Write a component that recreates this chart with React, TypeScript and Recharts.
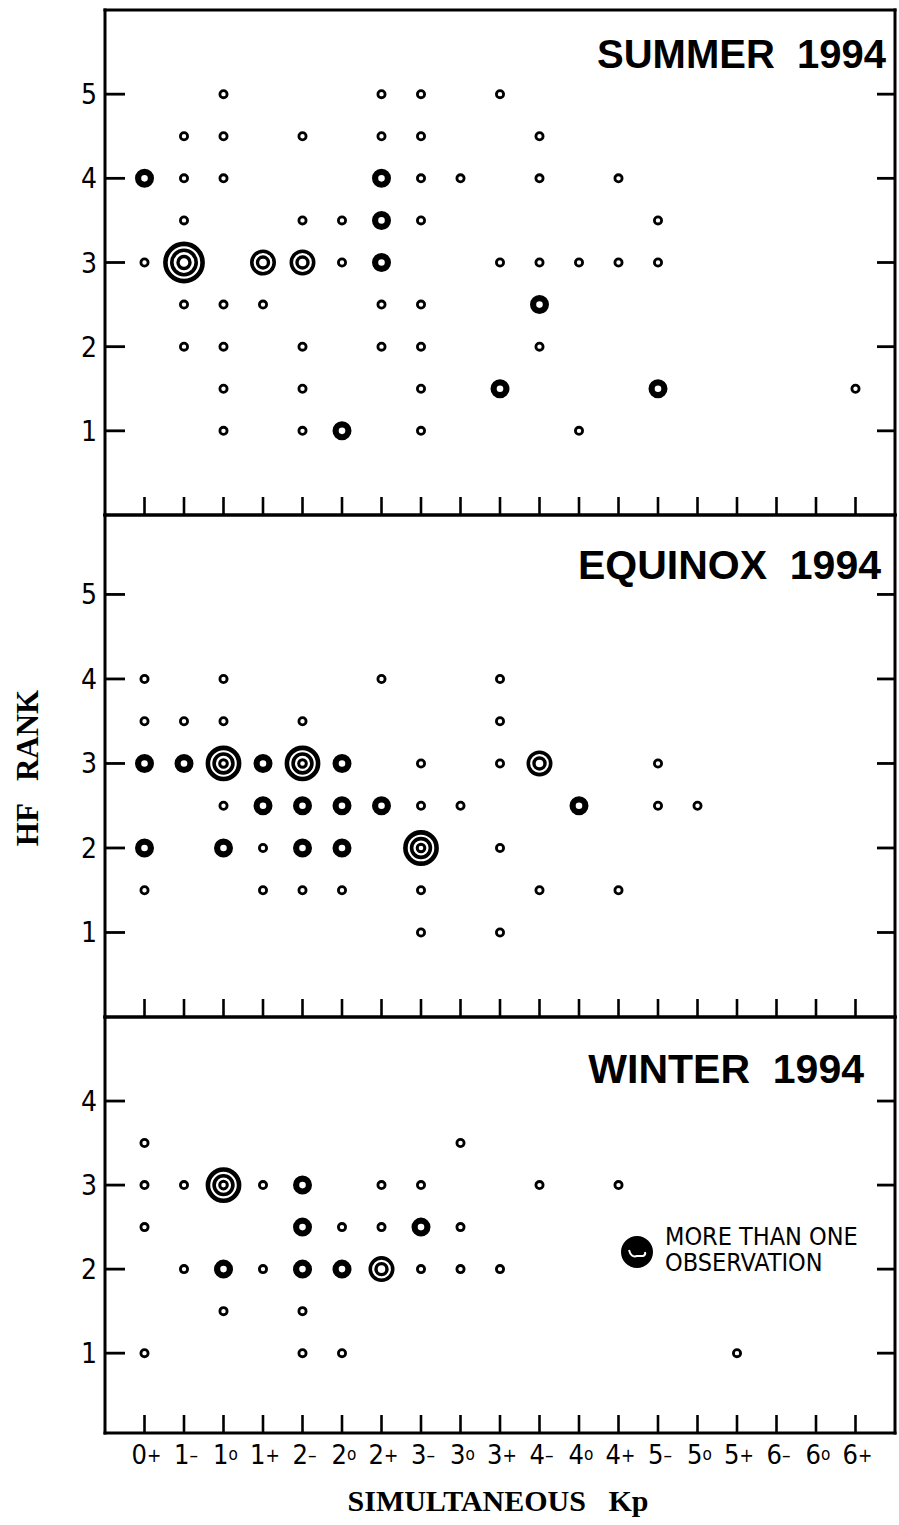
import React from 'react';
import { ScatterChart, Scatter, XAxis, YAxis } from 'recharts';

// ---- data ----
const kpLabels = ['0+', '1-', '1o', '1+', '2-', '2o', '2+', '3-', '3o', '3+', '4-', '4o', '4+', '5-', '5o', '5+', '6-', '6o', '6+'];
const kpTicks = kpLabels.map((_, i) => i);

const summerRankTicks = [1, 2, 3, 4, 5];
const equinoxRankTicks = [1, 2, 3, 4, 5];
const winterRankTicks = [1, 2, 3, 4];

type Obs = [string, number, number]; // [Kp, HF rank, number of observations class]

const summerObs: Obs[] = [
  ['1o', 5, 1], ['2+', 5, 1], ['3-', 5, 1], ['3+', 5, 1],
  ['1-', 4.5, 1], ['1o', 4.5, 1], ['2-', 4.5, 1], ['2+', 4.5, 1], ['3-', 4.5, 1], ['4-', 4.5, 1],
  ['0+', 4, 2], ['1-', 4, 1], ['1o', 4, 1], ['2+', 4, 2], ['3-', 4, 1], ['3o', 4, 1], ['4-', 4, 1], ['4+', 4, 1],
  ['1-', 3.5, 1], ['2-', 3.5, 1], ['2o', 3.5, 1], ['2+', 3.5, 2], ['3-', 3.5, 1], ['5-', 3.5, 1],
  ['0+', 3, 1], ['1-', 3, 5], ['1+', 3, 3], ['2-', 3, 3], ['2o', 3, 1], ['2+', 3, 2], ['3+', 3, 1], ['4-', 3, 1], ['4o', 3, 1], ['4+', 3, 1], ['5-', 3, 1],
  ['1-', 2.5, 1], ['1o', 2.5, 1], ['1+', 2.5, 1], ['2+', 2.5, 1], ['3-', 2.5, 1], ['4-', 2.5, 2],
  ['1-', 2, 1], ['1o', 2, 1], ['2-', 2, 1], ['2+', 2, 1], ['3-', 2, 1], ['4-', 2, 1],
  ['1o', 1.5, 1], ['2-', 1.5, 1], ['3-', 1.5, 1], ['3+', 1.5, 2], ['5-', 1.5, 2], ['6+', 1.5, 1],
  ['1o', 1, 1], ['2-', 1, 1], ['2o', 1, 2], ['3-', 1, 1], ['4o', 1, 1],
];

const equinoxObs: Obs[] = [
  ['0+', 4, 1], ['1o', 4, 1], ['2+', 4, 1], ['3+', 4, 1],
  ['0+', 3.5, 1], ['1-', 3.5, 1], ['1o', 3.5, 1], ['2-', 3.5, 1], ['3+', 3.5, 1],
  ['0+', 3, 2], ['1-', 3, 2], ['1o', 3, 4], ['1+', 3, 2], ['2-', 3, 4], ['2o', 3, 2], ['3-', 3, 1], ['3+', 3, 1], ['4-', 3, 3], ['5-', 3, 1],
  ['1o', 2.5, 1], ['1+', 2.5, 2], ['2-', 2.5, 2], ['2o', 2.5, 2], ['2+', 2.5, 2], ['3-', 2.5, 1], ['3o', 2.5, 1], ['4o', 2.5, 2], ['5-', 2.5, 1], ['5o', 2.5, 1],
  ['0+', 2, 2], ['1o', 2, 2], ['1+', 2, 1], ['2-', 2, 2], ['2o', 2, 2], ['3-', 2, 4], ['3+', 2, 1],
  ['0+', 1.5, 1], ['1+', 1.5, 1], ['2-', 1.5, 1], ['2o', 1.5, 1], ['3-', 1.5, 1], ['4-', 1.5, 1], ['4+', 1.5, 1],
  ['3-', 1, 1], ['3+', 1, 1],
];

const winterObs: Obs[] = [
  ['0+', 3.5, 1], ['3o', 3.5, 1],
  ['0+', 3, 1], ['1-', 3, 1], ['1o', 3, 4], ['1+', 3, 1], ['2-', 3, 2], ['2+', 3, 1], ['3-', 3, 1], ['4-', 3, 1], ['4+', 3, 1],
  ['0+', 2.5, 1], ['2-', 2.5, 2], ['2o', 2.5, 1], ['2+', 2.5, 1], ['3-', 2.5, 2], ['3o', 2.5, 1],
  ['1-', 2, 1], ['1o', 2, 2], ['1+', 2, 1], ['2-', 2, 2], ['2o', 2, 2], ['2+', 2, 3], ['3-', 2, 1], ['3o', 2, 1], ['3+', 2, 1],
  ['1o', 1.5, 1], ['2-', 1.5, 1],
  ['0+', 1, 1], ['2-', 1, 1], ['2o', 1, 1], ['5+', 1, 1],
];

const toPoints = (obs: Obs[]) => obs.map(([kp, rank, n]) => ({ kp: kpLabels.indexOf(kp), rank, n }));

// ---- styles ----
const RINGS: Record<number, [number, number][]> = {
  1: [[3.6, 2.8]],
  2: [[6.4, 6.2]],
  3: [[11.2, 3.6], [5.5, 3.4]],
  4: [[15.6, 4.6], [9.4, 3.6], [3.8, 3]],
  5: [[18.6, 4.6], [12.2, 3.6], [6, 3.4]],
};

const Marker = (props: any) => {
  const { cx, cy, payload } = props;
  if (cx == null || cy == null || !payload) return null;
  const rings = RINGS[payload.n] || RINGS[1];
  return (
    <g>
      {rings.map(([r, w], i) => (
        <circle key={i} cx={cx} cy={cy} r={r} fill={i === 0 ? '#fff' : 'none'} stroke="#000" strokeWidth={w} />
      ))}
    </g>
  );
};

const TICK_FONT = "'DejaVu Sans Condensed', 'DejaVu Sans', sans-serif";

const makeXTick = (showLabel: boolean) => (props: any) => {
  const { x, y, payload } = props;
  const lab = kpLabels[payload.value] ?? '';
  const suffix = lab.slice(1);
  return (
    <g>
      <line x1={x} y1={y} x2={x} y2={y - 18} stroke="#000" strokeWidth={2.6} />
      {showLabel && (
        <text x={x + 2} y={y + 31} textAnchor="middle" fontFamily={TICK_FONT} fill="#000">
          <tspan fontSize={27}>{lab[0]}</tspan>
          <tspan fontSize={suffix === 'o' ? 17 : 19} dy={suffix === 'o' ? -4 : -2}>{suffix === '-' ? '–' : suffix}</tspan>
        </text>
      )}
    </g>
  );
};

const LeftTick = (props: any) => {
  const { x, y, payload } = props;
  return (
    <g>
      <line x1={x} y1={y} x2={x + 20} y2={y} stroke="#000" strokeWidth={2.8} />
      <text x={x - 8} y={y + 10} textAnchor="end" fontFamily={TICK_FONT} fontSize={28} fill="#000">
        {payload.value}
      </text>
    </g>
  );
};

const RightTick = (props: any) => {
  const { x, y } = props;
  return <line x1={x} y1={y} x2={x - 18} y2={y} stroke="#000" strokeWidth={2.8} />;
};

const AXIS_LINE = { stroke: '#000', strokeWidth: 3, strokeLinecap: 'square' as const };

type PanelProps = {
  top: number;
  height: number;
  plotTop: number;
  plotBottom: number;
  domain: [number, number];
  rankTicks: number[];
  obs: Obs[];
  showLabels: boolean;
};

// plot area: x 105..895 ; axes given a 1px thickness
const Panel = ({ top, height, plotTop, plotBottom, domain, rankTicks, obs, showLabels }: PanelProps) => (
  <div style={{ position: 'absolute', left: 0, top }}>
    <ScatterChart
      width={899}
      height={height}
      margin={{ top: plotTop - top - 1, bottom: top + height - plotBottom - 1, left: 45, right: 3 }}
      style={{ overflow: 'visible' }}
    >
      <XAxis
        xAxisId="b"
        dataKey="kp"
        type="number"
        domain={[-1, 19]}
        ticks={kpTicks}
        interval={0}
        height={1}
        tickSize={0}
        tickMargin={0}
        tickLine={false}
        axisLine={AXIS_LINE}
        tick={makeXTick(showLabels)}
        allowDataOverflow
      />
      <XAxis
        xAxisId="t"
        orientation="top"
        type="number"
        domain={[-1, 19]}
        height={1}
        tick={false}
        tickLine={false}
        axisLine={AXIS_LINE}
        allowDataOverflow
      />
      <YAxis
        yAxisId="l"
        dataKey="rank"
        type="number"
        domain={domain}
        ticks={rankTicks}
        interval={0}
        width={60}
        tickSize={0}
        tickMargin={0}
        tickLine={false}
        axisLine={AXIS_LINE}
        tick={LeftTick}
        allowDataOverflow
      />
      <YAxis
        yAxisId="r"
        orientation="right"
        type="number"
        domain={domain}
        ticks={rankTicks}
        interval={0}
        width={1}
        tickSize={0}
        tickMargin={0}
        tickLine={false}
        axisLine={AXIS_LINE}
        tick={RightTick}
        allowDataOverflow
      />
      <Scatter
        xAxisId="b"
        yAxisId="l"
        data={toPoints(obs)}
        shape={Marker}
        isAnimationActive={false}
      />
    </ScatterChart>
  </div>
);

const TITLE_FONT = "'Liberation Sans', Arial, sans-serif";
const SERIF = "'Liberation Serif', 'Times New Roman', serif";

export default function App() {
  return (
    <div style={{ position: 'absolute', left: 0, top: 0, width: 899, height: 1525, background: '#fff', overflow: 'hidden' }}>
      <Panel top={0} height={530} plotTop={10} plotBottom={515} domain={[0, 6]} rankTicks={summerRankTicks} obs={summerObs} showLabels={false} />
      <Panel top={505} height={525} plotTop={515} plotBottom={1017} domain={[0, 5.94]} rankTicks={equinoxRankTicks} obs={equinoxObs} showLabels={false} />
      <Panel top={1007} height={518} plotTop={1017} plotBottom={1433} domain={[0.05, 5]} rankTicks={winterRankTicks} obs={winterObs} showLabels={true} />
      <svg width={899} height={1525} style={{ position: 'absolute', left: 0, top: 0, pointerEvents: 'none' }}>
        <text x={886} y={68} textAnchor="end" fontFamily={TITLE_FONT} fontWeight="bold" fontSize={40} style={{ whiteSpace: 'pre' }}>SUMMER  1994</text>
        <text x={881} y={579} textAnchor="end" fontFamily={TITLE_FONT} fontWeight="bold" fontSize={41} style={{ whiteSpace: 'pre' }}>EQUINOX  1994</text>
        <text x={864} y={1083} textAnchor="end" fontFamily={TITLE_FONT} fontWeight="bold" fontSize={41} style={{ whiteSpace: 'pre' }}>WINTER  1994</text>
        <text transform="translate(38, 768) rotate(-90)" textAnchor="middle" fontFamily={SERIF} fontWeight="bold" fontSize={31} style={{ whiteSpace: 'pre' }}>HF   RANK</text>
        <text x={498} y={1511} textAnchor="middle" fontFamily={SERIF} fontWeight="bold" fontSize={30} style={{ whiteSpace: 'pre' }}>SIMULTANEOUS   Kp</text>
        <g>
          <circle cx={637} cy={1252} r={15} fill="#000" stroke="#000" strokeWidth={2} />
          <path d="M629 1250 q2 8 8 6 l6 0 q3 -1 2 -4" fill="none" stroke="#fff" strokeWidth={2} />
          <text x={665} y={1245} fontFamily={TICK_FONT} fontSize={25}>MORE THAN ONE</text>
          <text x={665} y={1271} fontFamily={TICK_FONT} fontSize={25}>OBSERVATION</text>
        </g>
      </svg>
    </div>
  );
}
